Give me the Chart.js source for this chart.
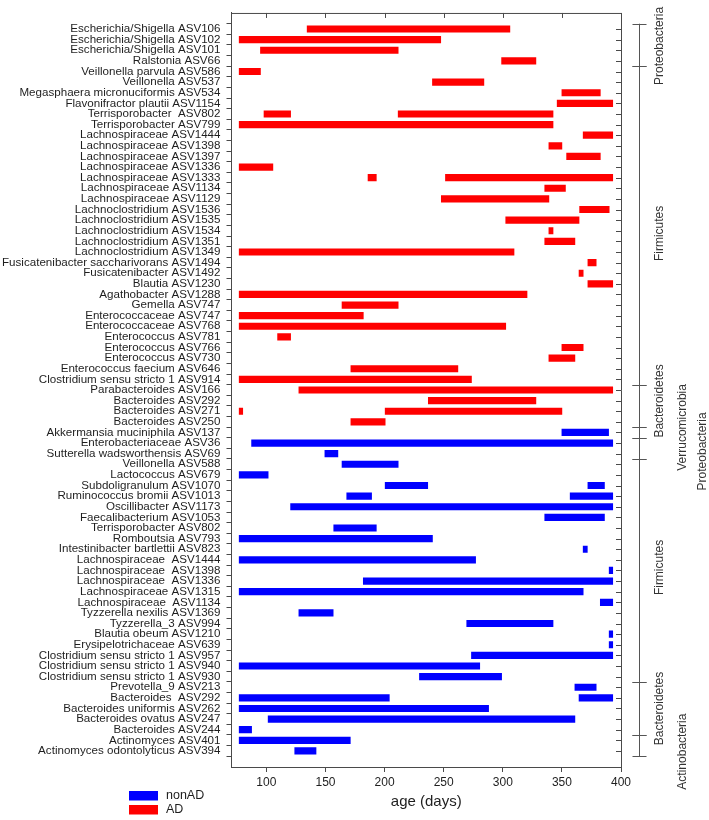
<!DOCTYPE html>
<html>
<head>
<meta charset="utf-8">
<script src="https://cdn.jsdelivr.net/npm/chart.js@4/dist/chart.umd.min.js"></script>
<style>
  body { margin: 0; background: #fff; }
  #wrap { width: 709px; height: 820px; }
</style>
</head>
<body>
<div id="wrap"><canvas id="chart" width="709" height="820"></canvas></div>
<script>
// taxa, top to bottom
const taxa = [
  'Escherichia/Shigella ASV106', 'Escherichia/Shigella ASV102', 'Escherichia/Shigella ASV101',
  'Ralstonia ASV66', 'Veillonella parvula ASV586', 'Veillonella ASV537',
  'Megasphaera micronuciformis ASV534', 'Flavonifractor plautii ASV1154',
  'Terrisporobacter  ASV802', 'Terrisporobacter ASV799',
  'Lachnospiraceae ASV1444', 'Lachnospiraceae ASV1398', 'Lachnospiraceae ASV1397',
  'Lachnospiraceae ASV1336', 'Lachnospiraceae ASV1333', 'Lachnospiraceae ASV1134',
  'Lachnospiraceae ASV1129', 'Lachnoclostridium ASV1536', 'Lachnoclostridium ASV1535',
  'Lachnoclostridium ASV1534', 'Lachnoclostridium ASV1351', 'Lachnoclostridium ASV1349',
  'Fusicatenibacter saccharivorans ASV1494', 'Fusicatenibacter ASV1492', 'Blautia ASV1230',
  'Agathobacter ASV1288', 'Gemella ASV747', 'Enterococcaceae ASV747', 'Enterococcaceae ASV768',
  'Enterococcus ASV781', 'Enterococcus ASV766', 'Enterococcus ASV730',
  'Enterococcus faecium ASV646', 'Clostridium sensu stricto 1 ASV914',
  'Parabacteroides ASV166', 'Bacteroides ASV292', 'Bacteroides ASV271', 'Bacteroides ASV250',
  'Akkermansia muciniphila ASV137', 'Enterobacteriaceae ASV36', 'Sutterella wadsworthensis ASV69',
  'Veillonella ASV588', 'Lactococcus ASV679', 'Subdoligranulum ASV1070',
  'Ruminococcus bromii ASV1013', 'Oscillibacter ASV1173', 'Faecalibacterium ASV1053',
  'Terrisporobacter ASV802', 'Romboutsia ASV793', 'Intestinibacter bartlettii ASV823',
  'Lachnospiraceae  ASV1444', 'Lachnospiraceae  ASV1398', 'Lachnospiraceae  ASV1336',
  'Lachnospiraceae ASV1315', 'Lachnospiraceae  ASV1134', 'Tyzzerella nexilis ASV1369',
  'Tyzzerella_3 ASV994', 'Blautia obeum ASV1210', 'Erysipelotrichaceae ASV639',
  'Clostridium sensu stricto 1 ASV957', 'Clostridium sensu stricto 1 ASV940',
  'Clostridium sensu stricto 1 ASV930', 'Prevotella_9 ASV213', 'Bacteroides  ASV292',
  'Bacteroides uniformis ASV262', 'Bacteroides ovatus ASV247', 'Bacteroides ASV244',
  'Actinomyces ASV401', 'Actinomyces odontolyticus ASV394'
];

// AD segments: row number (1 = top), start and end age in days
const adRows = [1, 2, 3, 4, 5, 6, 7, 8, 9, 9, 10, 11, 12, 13, 14, 15, 15, 16, 17, 18, 19, 20,
  21, 22, 23, 24, 25, 26, 27, 28, 29, 30, 31, 32, 33, 34, 35, 36, 37, 37, 38];
const adFrom = [134.5, 77, 95, 299, 77, 240.5, 350, 346, 98, 211.5, 77, 368, 339, 354, 77, 186, 251.5,
  335.5, 248, 365, 302.5, 339, 335.5, 77, 372, 364.5, 372, 77, 164, 77, 77, 109.5, 350, 339, 171.5,
  77, 127.5, 237, 77, 200.5, 171.5];
const adTo = [306, 247.5, 211.5, 328, 95, 284, 382.5, 393, 120.5, 342.5, 342.5, 393, 350, 382.5, 105.5,
  193, 393, 353, 339, 390, 364.5, 342.5, 361, 309.5, 379, 368, 393, 320.5, 211.5, 182, 302.5, 120.5,
  368, 361, 262, 273.5, 393, 328, 80, 350, 200.5];

// nonAD segments
const nonAdRows = [39, 40, 41, 42, 43, 44, 44, 45, 45, 46, 47, 48, 49, 50, 51, 52, 53, 54, 55, 56,
  57, 58, 59, 60, 61, 62, 63, 64, 64, 65, 66, 67, 68, 69];
const nonAdFrom = [350, 87.5, 149.5, 164, 77, 200.5, 372, 168, 357, 120.5, 335.5, 157, 77, 368, 77,
  390, 182, 77, 382.5, 127.5, 269.5, 390, 390, 273.5, 77, 229.5, 361, 77, 364.5, 77, 101.5, 77, 77, 124];
const nonAdTo = [389.5, 393, 160.5, 211.5, 101.5, 236.5, 386, 189, 393, 393, 386, 193, 240.5, 371.5,
  277, 393, 393, 368, 393, 156.5, 342.5, 393, 393, 393, 280.5, 299, 379, 204, 393, 288, 361, 87.5,
  171, 142];

const xTicks = [100, 150, 200, 250, 300, 350, 400];

// phylum brackets on the right
const phylumNames = ['Proteobacteria', 'Firmicutes', 'Bacteroidetes', 'Verrucomicrobia',
  'Proteobacteria', 'Firmicutes', 'Bacteroidetes', 'Actinobacteria'];
const phylumFirst = [1, 5, 35, 39, 40, 42, 63, 68];
const phylumLast = [4, 34, 38, 39, 41, 62, 67, 69];
const phylumColumn = [0, 0, 0, 1, 2, 0, 0, 1];

const axisColor = '#4a4a4a';
const textColor = '#1e1e1e';
Chart.defaults.font.family = '"Liberation Sans", Arial, sans-serif';
Chart.defaults.color = textColor;

const frame = {
  id: 'frame',
  afterDraw(chart) {
    const ctx = chart.ctx;
    const a = chart.chartArea;
    const x = chart.scales.x;
    const y = chart.scales.y;
    ctx.save();
    ctx.strokeStyle = axisColor;
    ctx.lineWidth = 1;
    ctx.beginPath();
    ctx.moveTo(a.left, a.top + 0.5);
    ctx.lineTo(a.right + 0.5, a.top + 0.5);
    ctx.lineTo(a.right + 0.5, a.bottom);
    // inside ticks, top and right
    xTicks.forEach(v => {
      const px = Math.round(x.getPixelForValue(v)) + 0.5;
      ctx.moveTo(px, a.top);
      ctx.lineTo(px, a.top + 5);
    });
    for (let r = 1; r <= taxa.length; r++) {
      const py = Math.round(y.getPixelForValue(r)) + 0.5;
      ctx.moveTo(a.right - 5, py);
      ctx.lineTo(a.right, py);
    }
    ctx.stroke();

    // phylum brackets
    const bx = 639.5;
    ctx.strokeStyle = '#555';
    ctx.beginPath();
    const top = y.getPixelForValue(phylumFirst[0] - 0.5);
    const bottom = y.getPixelForValue(phylumLast[phylumLast.length - 1] + 0.5);
    ctx.moveTo(bx, top);
    ctx.lineTo(bx, bottom);
    for (let i = 0; i < phylumNames.length; i++) {
      [phylumFirst[i] - 0.5, phylumLast[i] + 0.5].forEach(v => {
        const py = Math.round(y.getPixelForValue(v)) + 0.5;
        ctx.moveTo(bx - 7, py);
        ctx.lineTo(bx + 7, py);
      });
    }
    ctx.stroke();

    ctx.fillStyle = '#333';
    ctx.font = '12px "Liberation Sans", Arial, sans-serif';
    ctx.textAlign = 'center';
    ctx.textBaseline = 'middle';
    const cols = [660, 683, 703];
    const nudge = [1, 8, -5, -5, 3, -3, 0, 6]; // label placement tweaks, px
    for (let i = 0; i < phylumNames.length; i++) {
      const cy = (y.getPixelForValue(phylumFirst[i] - 0.5) + y.getPixelForValue(phylumLast[i] + 0.5)) / 2;
      ctx.save();
      ctx.translate(cols[phylumColumn[i]], cy + nudge[i]);
      ctx.rotate(-Math.PI / 2);
      ctx.fillText(phylumNames[i], 0, 0);
      ctx.restore();
    }

    // legend, nonAD first
    const items = [chart.data.datasets[1], chart.data.datasets[0]];
    ctx.font = '12.5px "Liberation Sans", Arial, sans-serif';
    ctx.textAlign = 'left';
    items.forEach((ds, i) => {
      const ly = 791 + i * 14;
      ctx.fillStyle = ds.backgroundColor;
      ctx.fillRect(129, ly, 29, 9.5);
      ctx.fillStyle = textColor;
      ctx.fillText(ds.label, 166, ly + 5);
    });
    ctx.restore();
  }
};

new Chart(document.getElementById('chart'), {
  type: 'bar',
  data: {
    datasets: [
      {
        label: 'AD',
        data: adRows.map((r, i) => ({ y: r, x: [adFrom[i], adTo[i]] })),
        backgroundColor: '#ff0000',
        barThickness: 6.5,
        grouped: false
      },
      {
        label: 'nonAD',
        data: nonAdRows.map((r, i) => ({ y: r, x: [nonAdFrom[i], nonAdTo[i]] })),
        backgroundColor: '#0000ff',
        barThickness: 6.5,
        grouped: false
      }
    ]
  },
  options: {
    indexAxis: 'y',
    responsive: false,
    devicePixelRatio: 1,
    animation: false,
    layout: { padding: { top: 10.5, right: 88, bottom: 0, left: 0 } },
    plugins: { legend: { display: false }, tooltip: { enabled: false } },
    scales: {
      x: {
        type: 'linear',
        position: 'bottom',
        min: 70.5,
        max: 400,
        afterBuildTicks: s => { s.ticks = xTicks.map(v => ({ value: v })); },
        afterFit: s => { s.height = 53; },
        grid: { drawOnChartArea: false, tickLength: 5, color: axisColor },
        border: { color: axisColor },
        ticks: { font: { size: 12 }, padding: 3, color: textColor },
        title: { display: true, text: 'age (days)', font: { size: 15 }, color: textColor, padding: { top: 0, bottom: 9 } }
      },
      y: {
        type: 'linear',
        reverse: true,
        min: 0,
        max: 70,
        afterBuildTicks: s => { s.ticks = taxa.map((t, i) => ({ value: i + 1 })); },
        afterFit: s => { s.width = 231.5; },
        grid: { drawOnChartArea: false, tickLength: 5, color: axisColor },
        border: { color: axisColor },
        ticks: {
          autoSkip: false,
          font: { size: 11.6 },
          padding: 6,
          color: textColor,
          callback: v => taxa[v - 1] || ''
        }
      }
    }
  },
  plugins: [frame]
});
</script>
</body>
</html>
